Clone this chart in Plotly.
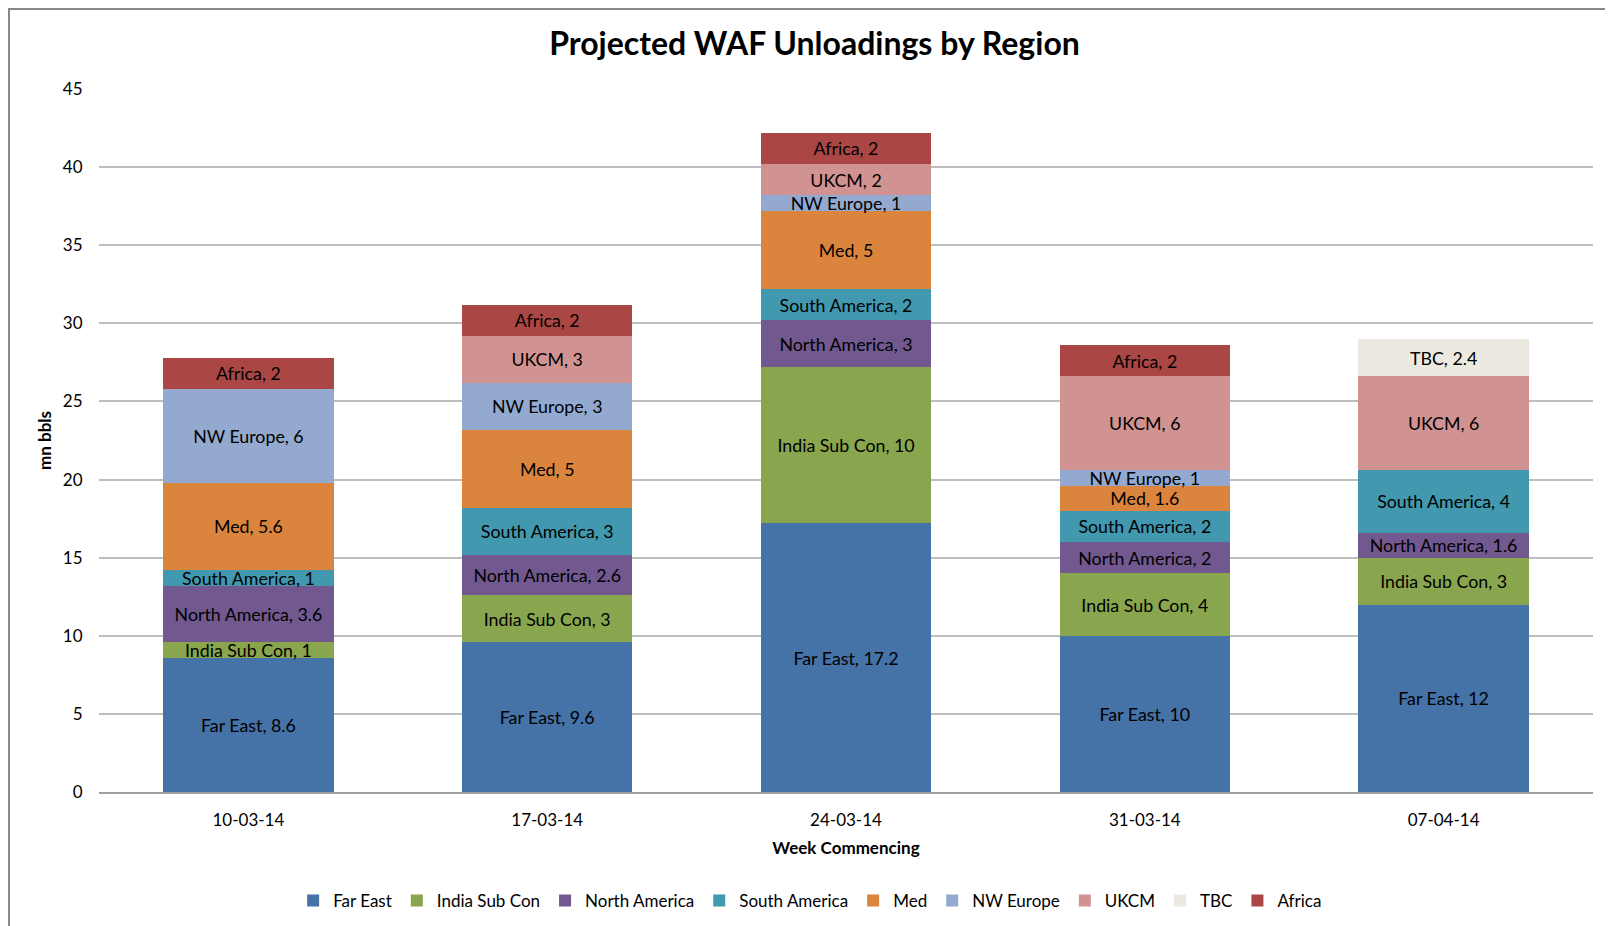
import plotly.graph_objects as go

weeks = ["10-03-14", "17-03-14", "24-03-14", "31-03-14", "07-04-14"]

far_east = [8.6, 9.6, 17.2, 10, 12]
india_sub_con = [1, 3, 10, 4, 3]
north_america = [3.6, 2.6, 3, 2, 1.6]
south_america = [1, 3, 2, 2, 4]
med = [5.6, 5, 5, 1.6, None]
nw_europe = [6, 3, 1, 1, None]
ukcm = [None, 3, 2, 6, 6]
tbc = [None, None, None, None, 2.4]
africa = [2, 2, 2, 2, None]

series = [
    ("Far East", far_east, "#4572A7"),
    ("India Sub Con", india_sub_con, "#89A54E"),
    ("North America", north_america, "#71588F"),
    ("South America", south_america, "#4198AF"),
    ("Med", med, "#DB843D"),
    ("NW Europe", nw_europe, "#93A9CF"),
    ("UKCM", ukcm, "#D19392"),
    ("TBC", tbc, "#ECEAE0"),
    ("Africa", africa, "#AA4643"),
]

FONT = "Lato"

# plot area in figure pixels (the page adds an 8px body margin)
LEFT, RIGHT, TOP, BOTTOM = 91, 28, 81, 142
PLOT_W = 1613 - LEFT - RIGHT
PLOT_H = 926 - TOP - BOTTOM


def label(name, value):
    if value is None:
        return ""
    return f"{name}, {value:g}"


def main():
    fig = go.Figure()
    for name, values, color in series:
        fig.add_trace(go.Bar(
            name=name,
            x=weeks,
            y=values,
            marker=dict(color=color, line=dict(width=0)),
            text=[label(name, v) for v in values],
            textposition="inside",
            insidetextanchor="middle",
            constraintext="none",
            textangle=0,
            textfont=dict(family=FONT, size=17.8, color="#000000"),
            hoverinfo="x+y+name",
        ))

    fig.update_layout(
        barmode="stack",
        bargap=0.43,
        width=1613,
        height=926,
        margin=dict(l=LEFT, r=RIGHT, t=TOP, b=BOTTOM),
        paper_bgcolor="white",
        plot_bgcolor="white",
        font=dict(family=FONT, size=17, color="#000000"),
        title=dict(
            text="<b>Projected WAF Unloadings by Region</b>",
            x=0.5, xanchor="center",
            y=1 - 36 / 926, yanchor="middle",
            font=dict(family=FONT, size=32, color="#000000"),
        ),
        legend=dict(
            orientation="h",
            x=0.476, xanchor="center",
            y=(PLOT_H - (893 - TOP)) / PLOT_H, yanchor="middle",
            font=dict(family=FONT, size=17, color="#000000"),
            traceorder="normal",
            itemwidth=30,
        ),
        showlegend=True,
    )

    fig.update_xaxes(
        type="category",
        showgrid=False,
        showline=True,
        linecolor="#A0A0A0",
        linewidth=1.5,
        ticks="outside",
        ticklen=12,
        tickcolor="rgba(0,0,0,0)",
        tickfont=dict(family=FONT, size=17),
        title=dict(text="<b>Week Commencing</b>", font=dict(family=FONT, size=17), standoff=13),
    )
    fig.update_yaxes(
        range=[0, 45],
        dtick=5,
        showgrid=True,
        gridcolor="#BEBEBE",
        gridwidth=1.5,
        zeroline=False,
        ticks="outside",
        ticklen=12,
        tickcolor="rgba(0,0,0,0)",
        tickfont=dict(family=FONT, size=17),
        title=dict(text="<b>mn bbls</b>", font=dict(family=FONT, size=17), standoff=6),
    )

    # chart border: its left and top edges sit on the figure edge
    fig.add_shape(
        type="rect", xref="paper", yref="paper",
        x0=(1 - LEFT) / PLOT_W, x1=1.2,
        y0=-0.5, y1=(PLOT_H + TOP - 1) / PLOT_H,
        line=dict(color="#888888", width=2),
        fillcolor="rgba(0,0,0,0)",
        layer="below",
    )

    fig.write_html("out.html")


if __name__ == "__main__":
    main()
